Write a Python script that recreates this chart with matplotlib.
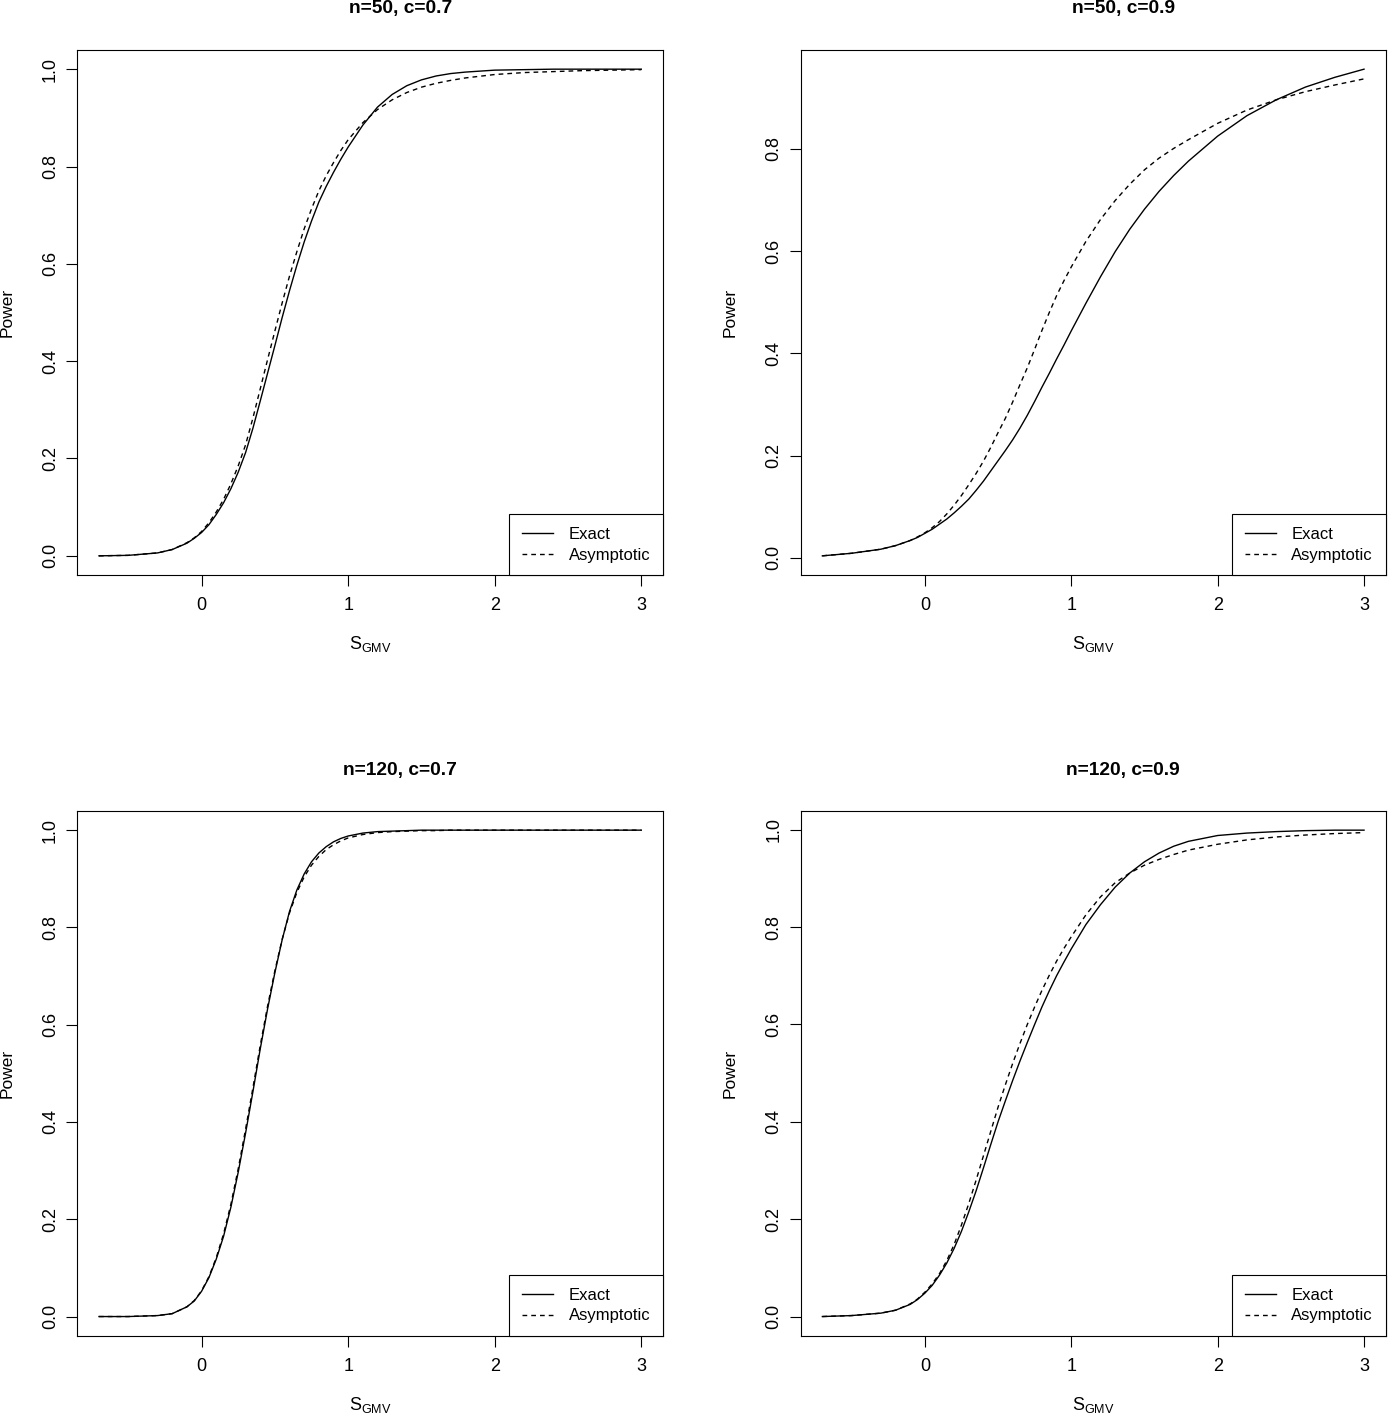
import matplotlib
matplotlib.use('Agg')
import matplotlib.pyplot as plt

# Fuente parecida a Helvetica de R
plt.rcParams['font.family'] = 'Liberation Sans'
plt.rcParams['mathtext.fontset'] = 'custom'
plt.rcParams['mathtext.rm'] = 'Liberation Sans'
plt.rcParams['lines.scale_dashes'] = False

# Valores de S_GMV (eje x comun)
s_gmv = [-0.7, -0.5, -0.3, -0.2, -0.1,
         -0.05, 0.0, 0.05, 0.1, 0.15, 0.2, 0.25, 0.3, 0.35, 0.4, 0.45, 0.5, 0.55, 0.6, 0.65,
         0.7, 0.75, 0.8, 0.85, 0.9, 0.95, 1.0,
         1.1, 1.2, 1.3, 1.4, 1.5, 1.6, 1.7, 1.8,
         2.0, 2.2, 2.4, 2.6, 2.8, 3.0]

# n=50, c=0.7
exact_50_07 = [0.000, 0.001, 0.006, 0.013, 0.026,
               0.036, 0.048, 0.064, 0.085, 0.109, 0.138, 0.172, 0.212, 0.262, 0.318, 0.375,
               0.432, 0.490, 0.545, 0.597, 0.645, 0.688, 0.727, 0.759, 0.788, 0.815, 0.840,
               0.885, 0.922, 0.948, 0.966, 0.978, 0.986, 0.991, 0.994,
               0.998, 0.999, 1.000, 1.000, 1.000, 1.000]
asym_50_07 = [0.000, 0.001, 0.006, 0.013, 0.027,
              0.037, 0.050, 0.068, 0.090, 0.116, 0.148, 0.185, 0.228, 0.283, 0.343, 0.403,
              0.462, 0.520, 0.575, 0.625, 0.672, 0.713, 0.750, 0.781, 0.808, 0.833, 0.855,
              0.890, 0.917, 0.937, 0.952, 0.963, 0.971, 0.977, 0.982,
              0.989, 0.993, 0.995, 0.997, 0.998, 0.999]

# n=50, c=0.9
exact_50_09 = [0.004, 0.009, 0.017, 0.024, 0.034,
               0.040, 0.048, 0.056, 0.066, 0.076, 0.088, 0.101, 0.115, 0.132, 0.150, 0.170,
               0.190, 0.210, 0.231, 0.254, 0.279, 0.306, 0.334, 0.361, 0.389, 0.416, 0.444,
               0.498, 0.550, 0.599, 0.643, 0.682, 0.717, 0.748, 0.776,
               0.825, 0.865, 0.896, 0.921, 0.940, 0.956]
asym_50_09 = [0.004, 0.009, 0.017, 0.024, 0.034,
              0.041, 0.049, 0.059, 0.071, 0.086, 0.103, 0.122, 0.143, 0.165, 0.189, 0.216,
              0.245, 0.273, 0.305, 0.339, 0.372, 0.408, 0.445, 0.480, 0.513, 0.542, 0.569,
              0.619, 0.662, 0.699, 0.731, 0.759, 0.782, 0.801, 0.818,
              0.850, 0.876, 0.896, 0.912, 0.925, 0.937]

# n=120, c=0.7
exact_120_07 = [0.000, 0.000, 0.002, 0.006, 0.020,
                0.032, 0.052, 0.080, 0.118, 0.165, 0.225, 0.297, 0.377, 0.462, 0.550, 0.632,
                0.707, 0.775, 0.833, 0.877, 0.910, 0.935, 0.953, 0.966, 0.976, 0.983, 0.988,
                0.994, 0.997, 0.998, 0.999, 1.000, 1.000, 1.000, 1.000,
                1.000, 1.000, 1.000, 1.000, 1.000, 1.000]
asym_120_07 = [0.000, 0.000, 0.002, 0.006, 0.020,
               0.033, 0.053, 0.082, 0.121, 0.170, 0.231, 0.304, 0.385, 0.470, 0.557, 0.638,
               0.711, 0.776, 0.830, 0.872, 0.904, 0.928, 0.946, 0.960, 0.970, 0.978, 0.984,
               0.991, 0.995, 0.997, 0.998, 0.999, 0.999, 1.000, 1.000,
               1.000, 1.000, 1.000, 1.000, 1.000, 1.000]

# n=120, c=0.9
exact_120_09 = [0.000, 0.002, 0.007, 0.013, 0.025,
                0.035, 0.048, 0.064, 0.085, 0.110, 0.140, 0.175, 0.215, 0.258, 0.305, 0.353,
                0.400, 0.443, 0.485, 0.525, 0.563, 0.600, 0.636, 0.669, 0.700, 0.728, 0.755,
                0.805, 0.846, 0.882, 0.911, 0.934, 0.952, 0.966, 0.976,
                0.988, 0.993, 0.996, 0.998, 0.999, 0.999]
asym_120_09 = [0.000, 0.002, 0.007, 0.013, 0.026,
               0.036, 0.050, 0.067, 0.088, 0.115, 0.148, 0.188, 0.232, 0.280, 0.330, 0.380,
               0.430, 0.476, 0.520, 0.561, 0.600, 0.636, 0.670, 0.701, 0.730, 0.756, 0.780,
               0.825, 0.862, 0.891, 0.911, 0.927, 0.939, 0.949, 0.958,
               0.970, 0.979, 0.985, 0.989, 0.992, 0.994]

titulos = ['n=50, c=0.7', 'n=50, c=0.9', 'n=120, c=0.7', 'n=120, c=0.9']
exactos = [exact_50_07, exact_50_09, exact_120_07, exact_120_09]
asintoticos = [asym_50_07, asym_50_09, asym_120_07, asym_120_09]

# Tamano de la figura en pixeles
W, H = 1388, 1414
fig = plt.figure(figsize=(W / 100, H / 100), dpi=100)

# Cajas de cada panel en pixeles: (izq, arriba, der, abajo)
cajas = [(77.3, 49.7, 663.0, 575.3), (800.7, 49.7, 1385.7, 575.3),
         (77.3, 810.7, 663.0, 1336.0), (800.7, 810.7, 1385.7, 1336.0)]


def rango_r(valores):
    # rango con el 4% extra como hace R
    lo, hi = min(valores), max(valores)
    d = (hi - lo) * 0.04
    return lo - d, hi + d


for titulo, exacto, asint, (izq, arr, der, aba) in zip(titulos, exactos, asintoticos, cajas):
    ax = fig.add_axes([izq / W, 1 - aba / H, (der - izq) / W, (aba - arr) / H])
    ax.plot(s_gmv, exacto, color='black', lw=1.0, label='Exact')
    ax.plot(s_gmv, asint, color='black', lw=1.0, linestyle=(0, (3.4, 2.9)), label='Asymptotic')

    ax.set_xlim(*rango_r(s_gmv))
    y_lo, y_hi = rango_r(exacto + asint)
    ax.set_ylim(y_lo, y_hi)
    ax.set_xticks([0, 1, 2, 3])
    ax.set_xticklabels(['0', '1', '2', '3'])
    yt = [t for t in [0.0, 0.2, 0.4, 0.6, 0.8, 1.0] if t <= y_hi]
    ax.set_yticks(yt)
    ax.set_yticklabels(['%.1f' % t for t in yt], rotation=90, va='center')

    ax.tick_params(direction='out', length=7.6, width=0.8, labelsize=13, colors='black')
    ax.tick_params(axis='x', pad=8)
    ax.tick_params(axis='y', pad=5.5)
    for sp in ax.spines.values():
        sp.set_linewidth(0.8)
        sp.set_color('black')

    leg = ax.legend(loc='lower right', borderaxespad=0, fancybox=False, framealpha=1,
                    edgecolor='black', fontsize=12, handlelength=1.85, handletextpad=0.95,
                    labelspacing=0.35, borderpad=0.76)
    leg.get_frame().set_linewidth(0.8)

    # Titulo y etiquetas de ejes
    cx = (izq + der) / 2
    fig.text((cx + 30) / W, 1 - (arr - 40.7) / H, titulo, fontsize=13.8, fontweight='bold',
             ha='center', va='center')
    fig.text(cx / W, 1 - (aba + 69) / H, r'$\mathregular{S_{GMV}}$', fontsize=13,
             ha='center', va='center')
    fig.text((izq - 70.5) / W, 1 - ((arr + aba) / 2) / H, 'Power', fontsize=12.5,
             rotation=90, ha='center', va='center')

fig.savefig('out.png', dpi=100)
